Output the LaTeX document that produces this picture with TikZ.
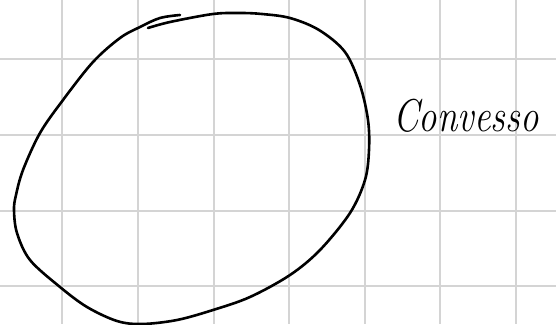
\documentclass[tikz,border=0pt]{standalone}
\tikzset{gridline/.style={draw={rgb,255:red,212;green,212;blue,212}, line width=2pt},
  ink/.style={draw=black, line width=2.6pt, line cap=round, line join=round}}
\begin{document}
\begin{tikzpicture}[x=1pt,y=-1pt]
\useasboundingbox (0,0) rectangle (556,324);
\foreach \k in {0,...,6} { \draw[gridline] ({62.4+75.6*\k},0) -- ({62.4+75.6*\k},324); }
\foreach \k in {0,...,3} { \draw[gridline] (0,{59.3+75.6*\k}) -- (556,{59.3+75.6*\k}); }
\draw[ink] plot[smooth, tension=0.55] coordinates {
 (148,28) (170,22) (213,14) (240,13) (262,14) (290,18) (319,30) (345,52) (360,85)
 (368,120) (369,150) (365,180) (350,213) (320,250) (290,275) (250,297) (213,310)
 (177,320) (142,324) (117,321) (87,307) (60,287) (30,260) (17,233) (14,210)
 (16,195) (23,170) (40,133) (63,100) (93,62) (120,38) (140,27) (160,18) (180,15)};
\node[anchor=base west, inner sep=0pt, xscale=0.8, font=\fontsize{46}{46}\selectfont\itshape] (label) at (393,131) {Convesso};
\end{tikzpicture}
\end{document}
